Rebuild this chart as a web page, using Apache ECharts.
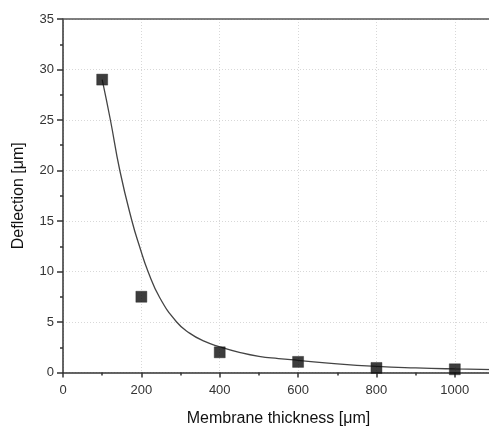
<!DOCTYPE html>
<html>
<head>
<meta charset="utf-8">
<script src="https://cdn.jsdelivr.net/npm/echarts@6/dist/echarts.min.js"></script>
<style>
  html, body { margin: 0; padding: 0; background: #fff; overflow: hidden; }
  #chart { width: 500px; height: 428px; }
</style>
</head>
<body>
<div id="chart"></div>
<script>
// Measured deflection versus membrane thickness
const thickness = [100, 200, 400, 600, 800, 1000];
const deflection = [29.0, 7.5, 2.0, 1.05, 0.45, 0.32];

// Fitted decay curve, sampled along its path
const fitX = [100, 121, 145, 176, 196, 217, 247, 290, 323, 360, 400, 450, 500, 550, 600, 700, 800, 900, 1000, 1100];
const fitY = [29.0, 25.0, 20.0, 15.0, 12.4, 10.0, 7.4, 5.0, 3.9, 3.1, 2.55, 2.0, 1.6, 1.38, 1.2, 0.85, 0.6, 0.45, 0.35, 0.28];

const xTicks = ['0', '200', '400', '600', '800', '1000'];

const fitData = fitX.map((x, i) => [x, fitY[i]]);
const pointData = thickness.map((x, i) => [x, deflection[i]]);

const chart = echarts.init(document.getElementById('chart'), null, { renderer: 'canvas' });

const labelFont = { fontFamily: 'Liberation Sans, Arial, sans-serif', fontSize: 13, color: '#333' };
const nameFont = { fontFamily: 'Liberation Sans, Arial, sans-serif', fontSize: 16, color: '#111' };
const axisStroke = { color: '#333', width: 1.5 };
const gridStroke = { color: '#d8d8d8', type: [1, 2], width: 1 };

chart.setOption({
  animation: false,
  backgroundColor: '#fff',
  grid: { left: 63, top: 19, right: 6, bottom: 55.5, containLabel: false, outerBoundsMode: 'none' },
  xAxis: [
    {
      type: 'value', min: 0, max: 1100, interval: 200,
      name: 'Membrane thickness [\u03bcm]', nameLocation: 'middle', nameGap: 38,
      nameTextStyle: nameFont,
      axisLine: { show: true, lineStyle: axisStroke },
      axisTick: { show: true, length: 5, lineStyle: axisStroke },
      axisLabel: Object.assign({
        margin: 11,
        formatter: v => (xTicks.indexOf(String(v)) >= 0 ? String(v) : '')
      }, labelFont),
      splitLine: { show: true, lineStyle: gridStroke }
    },
    {
      // minor ticks every 100
      type: 'value', min: 0, max: 1100, interval: 100, position: 'bottom',
      axisLine: { show: false },
      axisTick: { show: true, length: 3, lineStyle: axisStroke },
      axisLabel: { show: false },
      splitLine: { show: false }
    },
    {
      // top frame line
      type: 'value', min: 0, max: 1100, position: 'top', z: 5,
      axisLine: { show: true, lineStyle: { color: '#555', width: 1.5 } },
      axisTick: { show: false },
      axisLabel: { show: false },
      splitLine: { show: false }
    }
  ],
  yAxis: {
    type: 'value', min: 0, max: 35, interval: 5,
    name: 'Deflection [\u03bcm]', nameLocation: 'middle', nameGap: 36,
    nameTextStyle: nameFont,
    axisLine: { show: true, lineStyle: axisStroke },
    axisTick: { show: true, length: 6, lineStyle: axisStroke },
    minorTick: { show: true, splitNumber: 2, length: 3, lineStyle: axisStroke },
    axisLabel: Object.assign({ margin: 9 }, labelFont),
    splitLine: { show: true, lineStyle: gridStroke }
  },
  series: [
    {
      type: 'line', xAxisIndex: 0, data: fitData, smooth: 0.5,
      symbol: 'none', lineStyle: { color: '#444', width: 1.3 }, z: 2
    },
    {
      type: 'scatter', xAxisIndex: 0, data: pointData, symbol: 'rect', symbolSize: 11,
      itemStyle: { color: '#0d0d0d', borderColor: '#222', borderWidth: 0.5 }, z: 3
    }
  ]
});
</script>
</body>
</html>
